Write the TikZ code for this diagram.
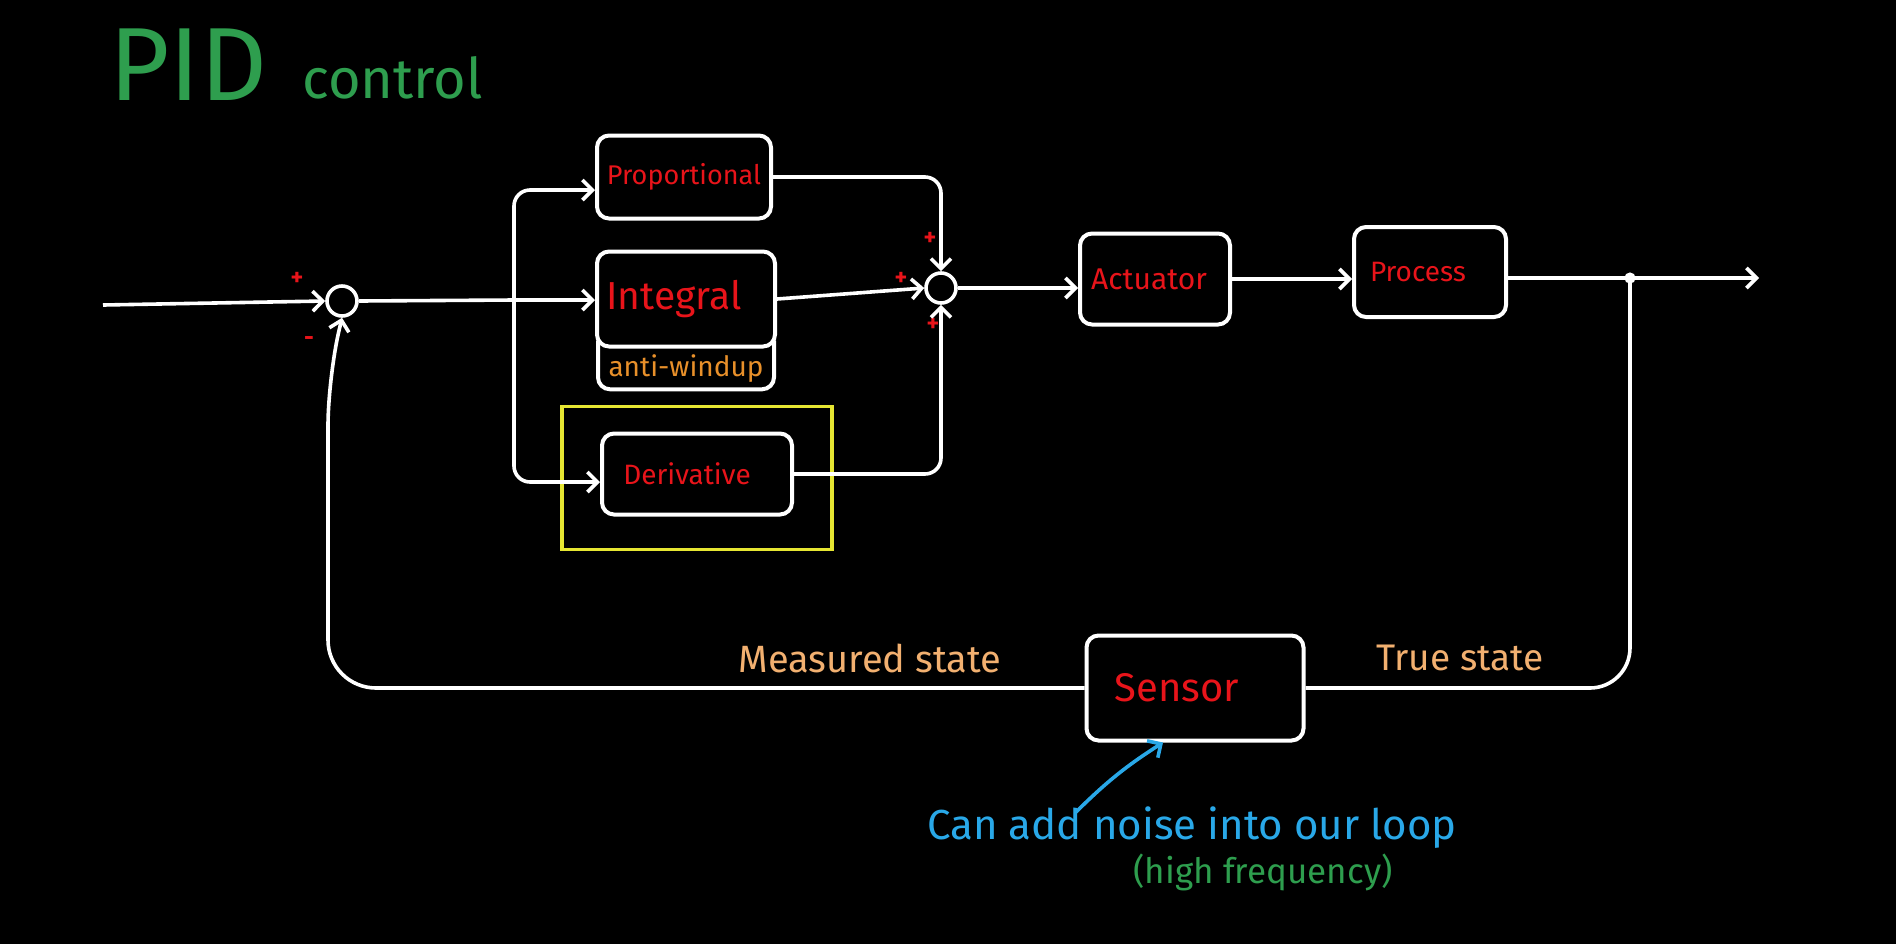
\documentclass[tikz,border=0pt]{standalone}
\usepackage{fontspec}
\setmainfont{Fira Sans}
\usetikzlibrary{arrows.meta,calc}
\definecolor{pidred}{HTML}{E8141A}
\definecolor{peach}{HTML}{F2B070}
\definecolor{awor}{HTML}{E8902A}
\definecolor{noiseblue}{HTML}{29A8E8}
\definecolor{titlegreen}{HTML}{2E9E4E}
\definecolor{hlyellow}{HTML}{E6E632}
\newcommand{\fsz}[1]{\fontsize{#1}{#1}\selectfont}
\begin{document}
\begin{tikzpicture}[x=0.5pt,y=-0.5pt,
  blk/.style={draw=white, line width=2pt, rounded corners=6pt, inner sep=0pt, text=pidred},
  sumc/.style={circle, draw=white, line width=1.8pt, minimum size=15pt, inner sep=0pt},
  wire/.style={draw=white, line width=1.8pt},
  arr/.style={wire, -{Straight Barb[length=5pt,width=10pt]}},
  sgn/.style={text=pidred, font=\bfseries\fsz{12}, inner sep=0pt},
  lbl/.style={inner sep=0pt}]
\fill[black] (0,0) rectangle (1896,944);
\useasboundingbox (0,0) rectangle (1896,944);

% title
\node[lbl, anchor=base west, text=titlegreen, font=\fsz{52}] (tPID) at (109,100) {PID};
\node[lbl, anchor=base west, text=titlegreen, font=\fsz{28}] (tctl) at (302,98) {control};

% summing junctions
\node[sumc] (s1) at (342,301) {};
\node[sumc] (s2) at (941,288) {};
\coordinate (in) at (103,305);
\coordinate (b1) at (514,300);

% PID blocks
\node[blk, minimum width=87pt, minimum height=41.5pt, font=\fsz{13.5}] (P) at (684,177) {Proportional};
\node[blk, minimum width=89pt, minimum height=47.5pt, font=\fsz{19.5}] (I) at (686,299) {\hspace*{-12pt}Integral};
\node[anchor=north, inner sep=0pt, minimum width=86pt, minimum height=20pt, text=awor, font=\fsz{14}] (aw) at (I.south) {anti-windup};
\draw[white, line width=2pt, rounded corners=6pt]
  ([xshift=1.5pt,yshift=4pt]I.south west) -- ([xshift=1.5pt]I.south west |- aw.south)
  -- ([xshift=-1.5pt]I.south east |- aw.south) -- ([xshift=-1.5pt,yshift=4pt]I.south east);
\node[draw=hlyellow, line width=1.6pt, minimum width=135pt, minimum height=71.5pt, inner sep=0pt] (yel) at (697,478) {};
\node[blk, minimum width=95pt, minimum height=40.5pt, font=\fsz{14}] (D) at (697,474) {\hspace*{-10pt}Derivative};

% plant
\node[blk, minimum width=75pt, minimum height=45.5pt, font=\fsz{15}] (A) at (1155,279) {\hspace*{-6pt}Actuator};
\node[blk, minimum width=76pt, minimum height=45pt, font=\fsz{14}] (Pr) at (1430,272) {\hspace*{-12pt}Process};
\node[blk, minimum width=108.5pt, minimum height=52.5pt, font=\fsz{20}] (S) at (1195,688) {\hspace*{-18pt}Sensor};
\coordinate (out) at (1759,278);

% signs
\node[sgn] (p1) at (297,279) {+};
\node[sgn] (m1) at (309,341) {-};
\node[sgn] (p2) at (930,239) {+};
\node[sgn] (p3) at (901,279) {+};
\node[sgn] (p4) at (933,325) {+};

% connectors
\draw[arr] (in) -- (s1.west);
\draw[wire] (s1.east) -- (b1);
\draw[arr] (b1) -- (b1 -| I.west);
\draw[arr, rounded corners=8pt] (b1) |- ([yshift=-6.5pt]P.west);
\draw[arr, rounded corners=8pt] (b1) |- ([yshift=-4pt]D.west);
\draw[arr, rounded corners=8pt] (P.east) -| (s2.north);
\draw[arr] (I.east) -- (s2.west);
\draw[arr, rounded corners=8pt] (D.east) -| (s2.south);
\draw[arr] (s2.east) -- (s2.east -| A.west);
\draw[arr] (A.east) -- (A.east -| Pr.west);
\draw[arr] (Pr.east |- out) -- coordinate[pos=0.486] (dp) (out);
\fill[white] (dp) circle (2.8pt);
\draw[wire, rounded corners=20pt] (dp) |- (S.east);
\draw[arr, rounded corners=24pt] (S.west) -| ([xshift=-7pt,yshift=-30pt]s1.south) -- (s1.south);

% labels
\node[lbl, text=peach, font=\fsz{19}] (ms) at (870,658) {Measured state};
\node[lbl, text=peach, font=\fsz{18.5}] (ts) at (1460,658) {True state};
\node[lbl, text=noiseblue, font=\fsz{21}] (nz) at (1192,828) {Can add noise into our loop};
\node[lbl, text=titlegreen, font=\fsz{17.5}] (hf) at (1263,872) {(high frequency)};
\coordinate (nzs) at (1076,812);
\draw[draw=noiseblue, line width=1.8pt, -{Straight Barb[length=5pt,width=10pt]}] (nzs) to[bend left=6] ([xshift=-16pt]S.south);
\end{tikzpicture}
\end{document}
